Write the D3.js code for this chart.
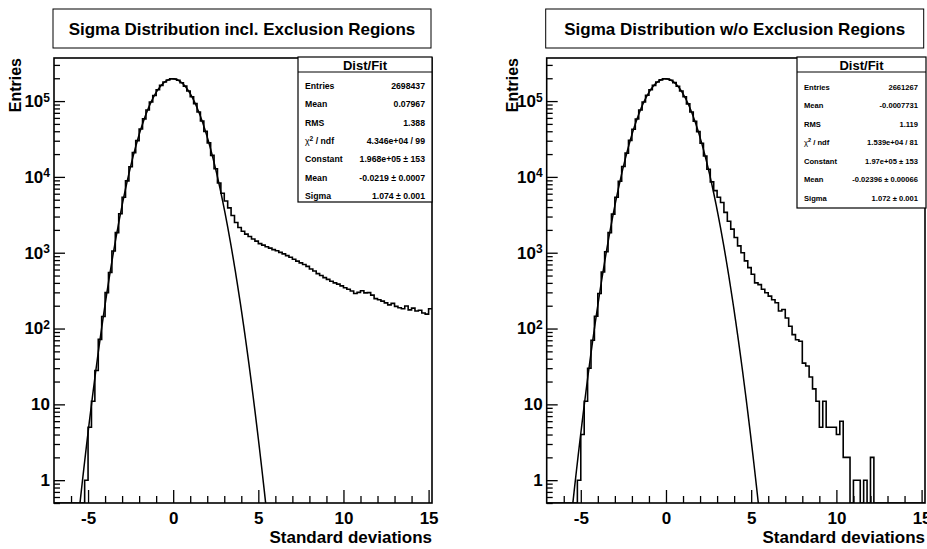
<!DOCTYPE html>
<html>
<head>
<meta charset="utf-8">
<script src="https://cdn.jsdelivr.net/npm/d3@7"></script>
<style>
body { margin: 0; background: #fff; }
text { font-family: "Liberation Sans", Arial, Helvetica, sans-serif; font-weight: bold; fill: #000; }
</style>
</head>
<body>
<svg width="927" height="549"></svg>
<script>
// histogram binning (both plots share it)
const binStart = -7;
const binWidth = 0.2;

// counts per bin, bin centres -6.9 ... 15.1
const countsIncl = [
    0, 0, 0, 0, 0, 0, 0, 0, 0, 1,
    5, 11, 28, 72, 144, 298, 548, 1052, 1842, 3270,
    5390, 8850, 13620, 20900, 30100, 42800, 58300, 76100, 97200, 118600,
    141300, 161000, 178500, 190100, 196800, 195200, 188400, 174600, 157300, 135800,
    114200, 92600, 71900, 54600, 39900, 28100, 19200, 12800, 8300, 6100,
    4800, 3900, 3100, 2500, 2150, 1920, 1760, 1640, 1520, 1420,
    1320, 1260, 1200, 1150, 1100, 1060, 1010, 965, 915, 870,
    820, 775, 735, 700, 660, 610, 575, 530, 500, 470,
    445, 420, 400, 385, 365, 345, 330, 312, 290, 300,
    315, 295, 298, 276, 248, 240, 230, 218, 205, 215,
    196, 188, 182, 198, 176, 186, 170, 174, 160, 155,
    182
];

const countsExcl = [
    0, 0, 0, 0, 0, 0, 0, 0, 0, 1,
    4, 11, 30, 70, 145, 290, 556, 1030, 1840, 3230,
    5380, 8780, 13700, 20600, 30300, 42500, 58100, 76300, 97100, 119200,
    141000, 161200, 178800, 190400, 196700, 195600, 188000, 174900, 156600, 135800,
    113900, 91800, 71900, 54200, 39500, 27800, 18900, 12600, 8600, 6600,
    5400, 4600, 3400, 2600, 2050, 1590, 1230, 1000, 780, 635,
    520, 400, 380, 330, 297, 268, 240, 219, 170, 178,
    138, 107, 83, 71, 68, 35, 32, 23, 16, 11,
    5, 11, 5, 5, 5, 4, 6, 2, 2, 0,
    1, 1, 0, 1, 0, 2, 0, 0, 0, 0,
    0, 0, 0, 0, 0, 0, 0, 0, 0, 0,
    0
];

// gaussian fit parameters (from the stats boxes)
const fitIncl = {constant: 1.968e5, mean: -0.0219, sigma: 1.074};
const fitExcl = {constant: 1.97e5, mean: -0.02396, sigma: 1.072};

const statsIncl = [
    ["Entries", "2698437"],
    ["Mean", "0.07967"],
    ["RMS", "1.388"],
    ["chi2", "4.346e+04 / 99"],
    ["Constant", "1.968e+05 \u00b1 153"],
    ["Mean", "-0.0219 \u00b1 0.0007"],
    ["Sigma", "1.074 \u00b1 0.001"]
];
const statsExcl = [
    ["Entries", "2661267"],
    ["Mean", "-0.0007731"],
    ["RMS", "1.119"],
    ["chi2", "1.539e+04 / 81"],
    ["Constant", "1.97e+05 \u00b1 153"],
    ["Mean", "-0.02396 \u00b1 0.00066"],
    ["Sigma", "1.072 \u00b1 0.001"]
];

const xMajorTicks = [-5, 0, 5, 10, 15];
const xMinorTicks = [-6, -4, -3, -2, -1, 1, 2, 3, 4, 6, 7, 8, 9, 11, 12, 13, 14];
const yMajorTicks = [1, 10, 100, 1000, 10000, 100000];
const yMin = 0.5, yMax = 3.7e5;

const svg = d3.select("svg");
const frameTop = 58, frameBottom = 503;

function drawPanel(p) {
    const g = svg.append("g");
    const nBins = p.counts.length;
    const x = d3.scaleLinear()
        .domain([binStart, binStart + binWidth * nBins])
        .range([p.left, p.right]);
    const y = d3.scaleLog().domain([yMin, yMax]).range([frameBottom, frameTop]);

    // title box
    g.append("rect")
        .attr("x", p.left - 1).attr("y", 9)
        .attr("width", 378).attr("height", 39)
        .attr("fill", "#fff").attr("stroke", "#000").attr("stroke-width", 1);
    g.append("text")
        .attr("x", p.left - 1 + 189).attr("y", 29).attr("dy", "0.35em")
        .attr("text-anchor", "middle").style("font-size", "17px")
        .text(p.title);

    const clipId = "clip" + p.id;
    svg.append("clipPath").attr("id", clipId)
        .append("rect")
        .attr("x", p.left).attr("y", frameTop)
        .attr("width", p.right - p.left).attr("height", frameBottom - frameTop);

    // histogram outline
    const pts = p.counts.map((c, i) => ({xv: binStart + i * binWidth, c: c}));
    pts.push({xv: binStart + nBins * binWidth, c: p.counts[nBins - 1]});
    const yc = c => y(Math.max(c, yMin));
    const step = d3.line()
        .x(d => x(d.xv))
        .y(d => yc(d.c))
        .curve(d3.curveStepAfter);
    g.append("path")
        .attr("clip-path", "url(#" + clipId + ")")
        .attr("d", step(pts))
        .attr("fill", "none").attr("stroke", "#000").attr("stroke-width", 1.6);

    // fit curve
    const f = p.fit;
    const xs = d3.range(binStart, binStart + nBins * binWidth + 0.001, 0.05);
    const curve = d3.line()
        .x(v => x(v))
        .y(v => y(f.constant * Math.exp(-0.5 * Math.pow((v - f.mean) / f.sigma, 2)) + 1e-30));
    g.append("path")
        .attr("clip-path", "url(#" + clipId + ")")
        .attr("d", curve(xs))
        .attr("fill", "none").attr("stroke", "#000").attr("stroke-width", 1.5);

    // axes (ROOT style: ticks pointing inwards)
    const xAxisG = g.append("g").attr("transform", "translate(0," + frameBottom + ")")
        .call(d3.axisBottom(x).tickValues(xMajorTicks).tickFormat(d => String(d))
            .tickSizeInner(-13).tickSizeOuter(0).tickPadding(9));
    g.append("g").attr("transform", "translate(0," + frameBottom + ")")
        .call(d3.axisBottom(x).tickValues(xMinorTicks).tickFormat("")
            .tickSizeInner(-7).tickSizeOuter(0));

    const yMinor = [];
    for (let e = -1; e <= 5; e++) {
        for (let m = 2; m <= 9; m++) {
            const v = m * Math.pow(10, e);
            if (v >= yMin && v <= yMax) yMinor.push(v);
        }
    }
    const yAxisG = g.append("g").attr("transform", "translate(" + p.left + ",0)")
        .call(d3.axisLeft(y).tickValues(yMajorTicks).tickFormat(d => String(d))
            .tickSizeInner(-11).tickSizeOuter(0).tickPadding(4));
    g.append("g").attr("transform", "translate(" + p.left + ",0)")
        .call(d3.axisLeft(y).tickValues(yMinor).tickFormat("")
            .tickSizeInner(-6).tickSizeOuter(0));

    g.selectAll(".domain").remove();
    g.selectAll(".tick line").attr("stroke", "#000").attr("stroke-width", 1.3);
    xAxisG.selectAll(".tick text").style("font-size", "17px")
        .style("font-family", "'Liberation Sans', Arial, sans-serif").style("font-weight", "bold");
    yAxisG.selectAll(".tick text").style("font-size", "17px")
        .style("font-family", "'Liberation Sans', Arial, sans-serif").style("font-weight", "bold")
        .each(function(d) {
            const e = Math.round(Math.log10(d));
            if (e >= 2) {
                const t = d3.select(this);
                t.text("10");
                t.append("tspan").attr("dy", "-0.45em").style("font-size", "12px").text(e);
            }
        });

    // frame
    g.append("rect")
        .attr("x", p.left).attr("y", frameTop)
        .attr("width", p.right - p.left).attr("height", frameBottom - frameTop)
        .attr("fill", "none").attr("stroke", "#000").attr("stroke-width", 1.6);

    // axis titles
    g.append("text")
        .attr("x", p.right).attr("y", 543)
        .attr("text-anchor", "end").style("font-size", "17px")
        .text("Standard deviations");
    g.append("text")
        .attr("transform", "translate(" + p.yTitleX + "," + frameTop + ") rotate(-90)")
        .attr("dy", "0.35em")
        .attr("text-anchor", "end").style("font-size", "16px")
        .text("Entries");

    // stats box
    const b = p.box;
    const sg = g.append("g");
    sg.append("rect")
        .attr("x", b.x).attr("y", b.y).attr("width", b.w).attr("height", b.h)
        .attr("fill", "#fff").attr("stroke", "#000").attr("stroke-width", 1.2);
    sg.append("line")
        .attr("x1", b.x).attr("x2", b.x + b.w)
        .attr("y1", b.y + 15).attr("y2", b.y + 15)
        .attr("stroke", "#000").attr("stroke-width", 1);
    sg.append("text")
        .attr("x", b.x + b.w / 2).attr("y", b.y + 8).attr("dy", "0.35em")
        .attr("text-anchor", "middle").style("font-size", "13px")
        .text("Dist/Fit");
    p.stats.forEach((r, i) => {
        const ty = b.y + b.first + i * b.step;
        const lab = sg.append("text")
            .attr("x", b.x + 7).attr("y", ty).attr("dy", "0.35em")
            .style("font-size", b.font + "px");
        if (r[0] === "chi2") {
            lab.append("tspan").style("font-weight", "normal").text("\u03c7");
            lab.append("tspan").attr("dy", -3).style("font-size", (b.font - 2) + "px").text("2");
            lab.append("tspan").attr("dy", 3).text(" / ndf");
        } else {
            lab.text(r[0]);
        }
        sg.append("text")
            .attr("x", b.x + b.w - b.padR).attr("y", ty).attr("dy", "0.35em")
            .attr("text-anchor", "end").style("font-size", b.font + "px")
            .text(r[1]);
    });
}

drawPanel({
    id: "L", left: 54, right: 432,
    title: "Sigma Distribution incl. Exclusion Regions",
    counts: countsIncl, fit: fitIncl, stats: statsIncl,
    yTitleX: 15,
    box: {x: 298, y: 57, w: 134, h: 145, first: 29, step: 18.3, font: 8.7, padR: 7}
});

drawPanel({
    id: "R", left: 546.7, right: 925,
    title: "Sigma Distribution w/o Exclusion Regions",
    counts: countsExcl, fit: fitExcl, stats: statsExcl,
    yTitleX: 512,
    box: {x: 797, y: 57, w: 129, h: 151, first: 30, step: 18.5, font: 7.6, padR: 8}
});
</script>
</body>
</html>
